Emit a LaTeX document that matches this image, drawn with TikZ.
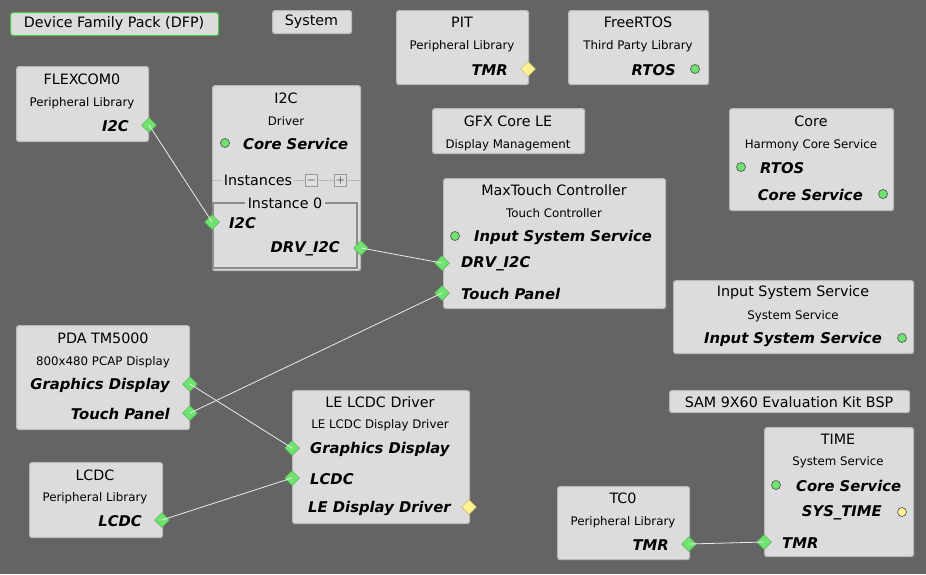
\documentclass[tikz,border=0pt]{standalone}
\usepackage{fontspec}
\setmainfont{DejaVu Sans}
\usetikzlibrary{shapes.geometric}
\definecolor{bgray}{RGB}{100,100,100}
\definecolor{boxfill}{RGB}{220,220,220}
\definecolor{boxline}{RGB}{185,185,185}
\definecolor{pgreen}{RGB}{110,228,110}
\definecolor{pyellow}{RGB}{255,240,145}
\definecolor{dfpline}{RGB}{70,200,70}
\tikzset{
  box/.style={draw=boxline, fill=boxfill, line width=1.2pt, rounded corners=2.5pt, anchor=north west, inner sep=0pt},
  ttl/.style={font=\fontsize{14.3}{16}\selectfont, inner sep=0pt},
  sub/.style={font=\fontsize{11.8}{13}\selectfont, inner sep=0pt},
  lbl/.style={font=\fontsize{14.8}{16}\selectfont\bfseries\itshape, inner sep=0pt},
  gport/.style={diamond, fill=pgreen, draw=pgreen!75!black, line width=0.5pt, minimum size=15pt, inner sep=0pt},
  yport/.style={diamond, fill=pyellow, draw=pyellow!75!black, line width=0.5pt, minimum size=15pt, inner sep=0pt},
  gdot/.style={circle, fill=pgreen, draw=black!65, line width=0.7pt, minimum size=9pt, inner sep=0pt},
  ydot/.style={circle, fill=pyellow, draw=black!65, line width=0.7pt, minimum size=9pt, inner sep=0pt},
  wire/.style={draw=white!92!black, line width=0.8pt},
  pm/.style={draw=black!40, fill=boxfill!90!white, minimum size=12pt, inner sep=0pt, font=\bfseries\fontsize{12}{12}\selectfont}
}
\begin{document}
\begin{tikzpicture}[x=1pt, y=-1pt]
\fill[bgray] (0,0) rectangle (926,574);
\useasboundingbox (0,0) rectangle (926,574);

\node[box, draw=dfpline, minimum width=208pt, minimum height=23pt] (dfp) at (10,12) {};
\node[ttl] (dfpT) at (114,24) {Device Family Pack (DFP)};
\node[box, minimum width=79pt, minimum height=23pt] (sys) at (272,10) {};
\node[ttl] (sysT) at (311.5,22) {System};

\node[box, minimum width=132pt, minimum height=74pt] (pit) at (396,10) {};
\node[ttl] (pitT) at (462,22) {PIT};
\node[sub] (pitS) at (462,46) {Peripheral Library};
\node[lbl, anchor=east] (pitL) at (508,70) {TMR};
\node[yport] (pitP) at (528,69) {};

\node[box, minimum width=140pt, minimum height=74pt] (rtos) at (568,10) {};
\node[ttl] (rtosT) at (638,22) {FreeRTOS};
\node[sub] (rtosS) at (638,46) {Third Party Library};
\node[lbl, anchor=east] (rtosL) at (676,70) {RTOS};
\node[ydot, fill=pgreen] (rtosP) at (695,69) {};

\node[box, minimum width=132pt, minimum height=75pt] (flex) at (16,66) {};
\node[ttl] (flexT) at (82,79) {FLEXCOM0};
\node[sub] (flexS) at (82,103) {Peripheral Library};
\node[lbl, anchor=east] (flexL) at (129,126) {I2C};
\node[gport] (flexP) at (149,125) {};

\node[box, minimum width=148pt, minimum height=185pt] (i2c) at (212,85) {};
\node[ttl] (i2cT) at (286,98) {I2C};
\node[sub] (i2cS) at (286,121) {Driver};
\node[gdot] (i2cC) at (225,143) {};
\node[lbl, anchor=west] (i2cCL) at (243,144) {Core Service};
\draw[boxline, line width=1pt] (212,180) -- (360,180);
\node[ttl, fill=boxfill, inner xsep=2pt] (inst) at (258,180) {Instances};
\node[pm] (minus) at (311.5,180) {$-$};
\node[pm] (plus) at (340.5,180) {$+$};
\draw[black!45, line width=1.2pt] (213,203) rectangle (357,268);
\node[ttl, fill=boxfill, inner xsep=3pt] (inst0) at (285,203) {Instance 0};
\node[gport] (i2cP) at (212,222) {};
\node[lbl, anchor=west] (i2cL) at (229,223) {I2C};
\node[lbl, anchor=east] (drvL) at (340,249) {DRV\_I2C};
\node[gport] (drvP) at (361,248) {};

\node[box, minimum width=152pt, minimum height=45pt] (gfx) at (432,108) {};
\node[ttl] (gfxT) at (508,121) {GFX Core LE};
\node[sub] (gfxS) at (508,145) {Display Management};

\node[box, minimum width=164pt, minimum height=102pt] (core) at (729,108) {};
\node[ttl] (coreT) at (811,121) {Core};
\node[sub] (coreS) at (811,145) {Harmony Core Service};
\node[gdot] (coreC1) at (741,167) {};
\node[lbl, anchor=west] (coreL1) at (760,168) {RTOS};
\node[lbl, anchor=east] (coreL2) at (863,195) {Core Service};
\node[gdot] (coreC2) at (883,194) {};

\node[box, minimum width=222pt, minimum height=130pt] (maxt) at (443,178) {};
\node[ttl] (maxtT) at (554,190) {MaxTouch Controller};
\node[sub] (maxtS) at (554,213) {Touch Controller};
\node[gdot] (maxtC) at (455,236) {};
\node[lbl, anchor=west] (maxtL1) at (474,237) {Input System Service};
\node[gport] (maxtP2) at (442,263) {};
\node[lbl, anchor=west] (maxtL2) at (461,264) {DRV\_I2C};
\node[gport] (maxtP3) at (442,293) {};
\node[lbl, anchor=west] (maxtL3) at (461,294) {Touch Panel};

\node[box, minimum width=240pt, minimum height=73pt] (inp) at (673,280) {};
\node[ttl] (inpT) at (793,293) {Input System Service};
\node[sub] (inpS) at (793,316) {System Service};
\node[lbl, anchor=east] (inpL) at (882,339) {Input System Service};
\node[gdot] (inpC) at (902,338) {};

\node[box, minimum width=173pt, minimum height=104pt] (pda) at (16,325) {};
\node[ttl] (pdaT) at (103,338) {PDA TM5000};
\node[sub] (pdaS) at (103,362) {800x480 PCAP Display};
\node[lbl, anchor=east] (pdaL1) at (170,385) {Graphics Display};
\node[gport] (pdaP1) at (190,384) {};
\node[lbl, anchor=east] (pdaL2) at (170,414) {Touch Panel};
\node[gport] (pdaP2) at (190,413) {};

\node[box, minimum width=177pt, minimum height=133pt] (le) at (292,390) {};
\node[ttl] (leT) at (380,402) {LE LCDC Driver};
\node[sub] (leS) at (380,425) {LE LCDC Display Driver};
\node[gport] (leP1) at (292,448) {};
\node[lbl, anchor=west] (leL1) at (310,449) {Graphics Display};
\node[gport] (leP2) at (292,478) {};
\node[lbl, anchor=west] (leL2) at (310,479) {LCDC};
\node[lbl, anchor=west] (leL3) at (308,508) {LE Display Driver};
\node[yport] (leP3) at (469,507) {};

\node[box, minimum width=133pt, minimum height=75pt] (lcdc) at (29,462) {};
\node[ttl] (lcdcT) at (95,475) {LCDC};
\node[sub] (lcdcS) at (95,498) {Peripheral Library};
\node[lbl, anchor=east] (lcdcL) at (142,521) {LCDC};
\node[gport] (lcdcP) at (162,520) {};

\node[box, minimum width=240pt, minimum height=22pt] (sam) at (669,390) {};
\node[ttl] (samT) at (789,402) {SAM 9X60 Evaluation Kit BSP};

\node[box, minimum width=132pt, minimum height=73pt] (tc) at (557,486) {};
\node[ttl] (tcT) at (623,498) {TC0};
\node[sub] (tcS) at (623,522) {Peripheral Library};
\node[lbl, anchor=east] (tcL) at (669,545) {TMR};
\node[gport] (tcP) at (689,544) {};

\node[box, minimum width=149pt, minimum height=129pt] (time) at (764,427) {};
\node[ttl] (timeT) at (838,439) {TIME};
\node[sub] (timeS) at (838,462) {System Service};
\node[gdot] (timeC) at (776,485) {};
\node[lbl, anchor=west] (timeL1) at (796,486) {Core Service};
\node[lbl, anchor=east] (timeL2) at (882,513) {SYS\_TIME};
\node[ydot] (timeY) at (902,512) {};
\node[gport] (timeP) at (764,542) {};
\node[lbl, anchor=west] (timeL3) at (782,543) {TMR};

\draw[wire] (flexP.center) -- (i2cP.center);
\draw[wire] (drvP.center) -- (maxtP2.center);
\draw[wire] (pdaP2.center) -- (maxtP3.center);
\draw[wire] (pdaP1.center) -- (leP1.center);
\draw[wire] (lcdcP.center) -- (leP2.center);
\draw[wire] (tcP.center) -- (timeP.center);
\end{tikzpicture}
\end{document}
